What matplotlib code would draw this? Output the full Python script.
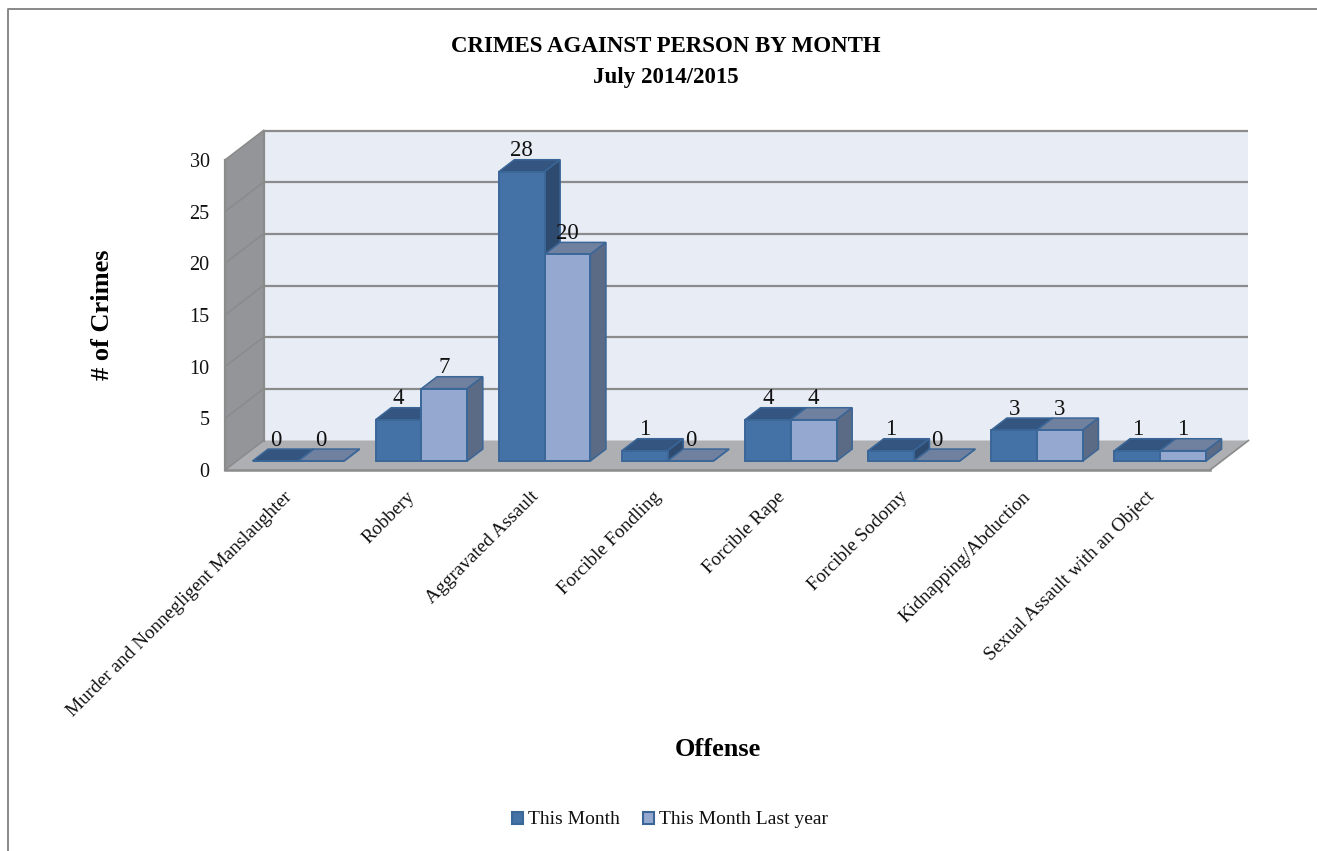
import matplotlib
matplotlib.use("Agg")
import matplotlib.pyplot as plt
from matplotlib.lines import Line2D
from matplotlib.patches import Polygon, Patch

categories = ["Murder and Nonnegligent Manslaughter", "Robbery", "Aggravated Assault",
              "Forcible Fondling", "Forcible Rape", "Forcible Sodomy",
              "Kidnapping/Abduction", "Sexual Assault with an Object"]
this_month = [0, 4, 28, 1, 4, 1, 3, 1]
last_year = [0, 7, 20, 0, 4, 0, 3, 1]
yticks = [0, 5, 10, 15, 20, 25, 30]
series_names = ["This Month", "This Month Last year"]

W, H = 1317, 851
plt.rcParams["font.family"] = ["Liberation Serif", "DejaVu Serif"]
fig = plt.figure(figsize=(W / 100, H / 100), dpi=100)
L, R, B, T = 225, 1210, 470, 160
ax = fig.add_axes([L / W, 1 - B / H, (R - L) / W, (B - T) / H])
n = len(categories)
ymax = yticks[-1]
ax.set_xlim(0, n)
ax.set_ylim(0, ymax)

# oblique projection of depth: depth 1 is the back wall
DX = 38.5 / ((R - L) / n)
DY = 29.5 / ((B - T) / ymax)


def proj(x, v, d):
    return (x + d * DX, v + d * DY)


def face(points, fc, ec=None, lw=0, z=1):
    p = Polygon([proj(*q) for q in points], closed=True, facecolor=fc,
                edgecolor=ec if ec else fc, linewidth=lw, zorder=z,
                clip_on=False, joinstyle="miter")
    ax.add_patch(p)


GRID = "#8b8b8b"
face([(0, 0, 1), (n, 0, 1), (n, ymax, 1), (0, ymax, 1)], "#e8ecf5", z=1)
face([(0, 0, 0), (0, ymax, 0), (0, ymax, 1), (0, 0, 1)], "#939598", z=1)
face([(0, 0, 0), (n, 0, 0), (n, 0, 1), (0, 0, 1)], "#adafb2", z=1)
for v in yticks:
    xs, ys = zip(proj(0, v, 1), proj(n, v, 1))
    if v > 0:
        ax.plot(xs, ys, color=GRID, lw=1.6, zorder=2, clip_on=False, solid_capstyle="butt")
    xs, ys = zip(proj(0, v, 0), proj(0, v, 1))
    ax.plot(xs, ys, color=GRID, lw=1.2, zorder=2, clip_on=False)
# frame edges of walls and floor
for a, b in [((0, 0, 0), (0, ymax, 0)), ((0, ymax, 1), (0, 0, 1))]:
    xs, ys = zip(proj(*a), proj(*b))
    ax.plot(xs, ys, color=GRID, lw=1.6, zorder=2, clip_on=False)
for a, b, c in [((0, 0, 0), (n, 0, 0), 1.8), ((n, 0, 0), (n, 0, 1), 1.2)]:
    xs, ys = zip(proj(*a), proj(*b))
    ax.plot(xs, ys, color=GRID, lw=c, zorder=2, clip_on=False)

# bars
BW = 0.372
D0, D1 = 0.305, 0.71
EDGE = "#3a6698"
styles = [("#4471a6", "#33557f", "#2f4a6f"), ("#95a9d0", "#70809f", "#5b6a85")]
base = D0 * DY
shift = D0 * DX
z = 3
for i in range(n):
    for s, vals in enumerate([this_month, last_year]):
        v = vals[i]
        front, top, side = styles[s]
        x0 = i + 0.5 - BW + s * BW
        x1 = x0 + BW
        face([(x0, v, D0), (x1, v, D0), (x1, v, D1), (x0, v, D1)], top, EDGE, 1.1, z)
        face([(x1, 0, D0), (x1, v, D0), (x1, v, D1), (x1, 0, D1)], side, EDGE, 1.1, z)
        ax.bar(x0 + shift + BW / 2, v, BW, bottom=base, color=front, edgecolor=EDGE,
               linewidth=1.4, zorder=z + 0.5, clip_on=False)
        ax.annotate(str(v), (x0 + shift + BW / 2, v + base), xytext=(0, 15),
                    textcoords="offset points", ha="center", va="center", fontsize=16.5,
                    color="#111111", zorder=50, annotation_clip=False)
        z += 1

# axes
for sp in ax.spines.values():
    sp.set_visible(False)
ax.patch.set_visible(False)
ax.set_yticks(yticks)
ax.set_yticklabels([str(v) for v in yticks], fontsize=14.5, color="#111111")
ax.tick_params(axis="y", length=0, pad=11)
ax.set_xticks([i + 0.475 for i in range(n)])
ax.set_xticklabels(categories, rotation=45, ha="right", va="top", rotation_mode="anchor",
                   fontsize=13.9, color="#111111")
ax.tick_params(axis="x", length=0, pad=13)

ax.set_ylabel("# of Crimes", fontsize=19, fontweight="bold")
ax.yaxis.set_label_coords((102 - L) / (R - L), (B - 315) / (B - T))
ax.yaxis.label.set_va("center")
ax.set_xlabel("Offense", fontsize=19, fontweight="bold")
ax.xaxis.set_label_coords((718 - L) / (R - L), (B - 749) / (B - T))
ax.xaxis.label.set_va("center")

fig.suptitle("CRIMES AGAINST PERSON BY MONTH\nJuly 2014/2015", x=666 / W, y=1 - 62 / H,
             va="center", ha="center", fontsize=16.5, fontweight="bold", linespacing=1.65)

handles = [Patch(facecolor=styles[0][0], edgecolor=EDGE, linewidth=1.5, label=series_names[0]),
           Patch(facecolor=styles[1][0], edgecolor=EDGE, linewidth=1.5, label=series_names[1])]
fig.legend(handles=handles, ncol=2, loc="center", bbox_to_anchor=(670 / W, 1 - 820 / H),
           frameon=False, fontsize=14, handlelength=0.58, handleheight=0.58,
           handletextpad=0.25, columnspacing=1.2, labelcolor="#111111")

# chart frame
fig.add_artist(Line2D([7.5 / W, 7.5 / W, 1], [0, 1 - 8.5 / H, 1 - 8.5 / H], color="#888888", lw=1.4))

fig.savefig("out.png", dpi=100)
